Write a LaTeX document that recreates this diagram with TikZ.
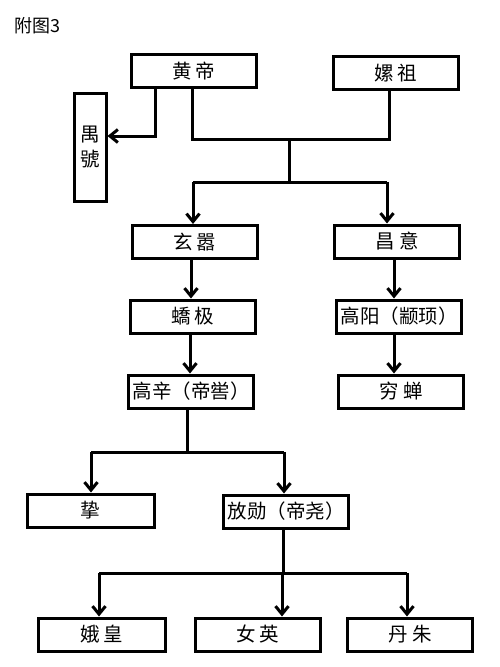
\documentclass[tikz,border=0pt]{standalone}
\usepackage{fontspec}
\newfontfamily\cjk{Noto Sans CJK SC}
\usetikzlibrary{arrows.meta}
\tikzset{
  box/.style={draw, line width=3pt, rectangle, minimum width=125pt, minimum height=33pt, inner sep=0pt, font=\cjk\fontsize{19.5}{22}\selectfont},
  link/.style={line width=3pt},
  arr/.style={line width=3pt, -{Straight Barb[length=8pt,width=13pt]}},
}
\newcommand{\cgap}{\hspace{4pt}}
\begin{document}
\begin{tikzpicture}[x=1pt,y=-1pt]
\useasboundingbox[fill=white] (0,0) rectangle (500,667);
\node[font=\cjk\fontsize{18}{20}\selectfont, anchor=west, inner sep=0pt] (title) at (14,26) {附图3};

\node[box] (hd) at (193.5,71) {黄\cgap 帝};
\node[box] (lz) at (395.5,73) {嫘\cgap 祖};
\node[box, minimum width=32pt, minimum height=108pt, align=center, font=\cjk\fontsize{19.5}{25}\selectfont] (yh) at (90,147) {禺\\號};
\node[box] (xx) at (194.5,242) {玄\cgap 嚣};
\node[box] (cy) at (397,241.5) {昌\cgap 意};
\node[box] (jj) at (192.5,316.5) {蟜\cgap 极};
\node[box] (gy) at (399,316.5) {高阳（颛顼）};
\node[box] (gx) at (191,391.5) {高辛（帝喾）};
\node[box] (qc) at (401,391.5) {穷\cgap 蝉};
\node[box, minimum width=127pt] (zh) at (90.5,510.5) {挚};
\node[box] (fx) at (286,511.5) {放勋（帝尧）};
\node[box, minimum width=127pt] (eh) at (101.5,634.5) {娥\cgap 皇};
\node[box] (ny) at (257.5,634.5) {女\cgap 英};
\node[box] (dz) at (410,634.5) {丹\cgap 朱};

% Huangdi -> Yuhao
\coordinate (k1) at (155,136);
\draw[arr] (hd.south -| k1) -- (k1) -- (k1 -| yh.east);

% Huangdi + Leizu
\coordinate (jA) at (192,139);
\coordinate (jB) at (389,139);
\coordinate (jM) at (289,139);
\coordinate (jN) at (289,182);
\coordinate (jL) at (193,182);
\coordinate (jR) at (387,182);
\draw[link] (hd.south -| jA) -- (jA) -- (jB) -- (lz.south -| jB);
\draw[link] (jM) -- (jN);
\draw[link] (jL) -- (jR);
\draw[arr] (jL) -- (xx.north -| jL);
\draw[arr] (jR) -- (cy.north -| jR);

% chains
\coordinate (c1) at (191,0);
\draw[arr] (xx.south -| c1) -- (jj.north -| c1);
\coordinate (c2) at (190,0);
\draw[arr] (jj.south -| c2) -- (gx.north -| c2);
\coordinate (c3) at (394,0);
\draw[arr] (cy.south -| c3) -- (gy.north -| c3);
\draw[arr] (gy.south -| c3) -- (qc.north -| c3);

% Gaoxin children
\coordinate (g1) at (187,452);
\coordinate (gL) at (91,452);
\coordinate (gR) at (284,452);
\draw[link] (gx.south -| g1) -- (g1);
\draw[link] (gL) -- (gR);
\draw[arr] (gL) -- (zh.north -| gL);
\draw[arr] (gR) -- (fx.north -| gR);

% Fangxun children
\coordinate (f1) at (283,573);
\coordinate (fL) at (99,573);
\coordinate (fR) at (407,573);
\coordinate (fM) at (282,573);
\draw[link] (fx.south -| f1) -- (f1);
\draw[link] (fL) -- (fR);
\draw[arr] (fL) -- (eh.north -| fL);
\draw[arr] (fM) -- (ny.north -| fM);
\draw[arr] (fR) -- (dz.north -| fR);
\end{tikzpicture}
\end{document}
